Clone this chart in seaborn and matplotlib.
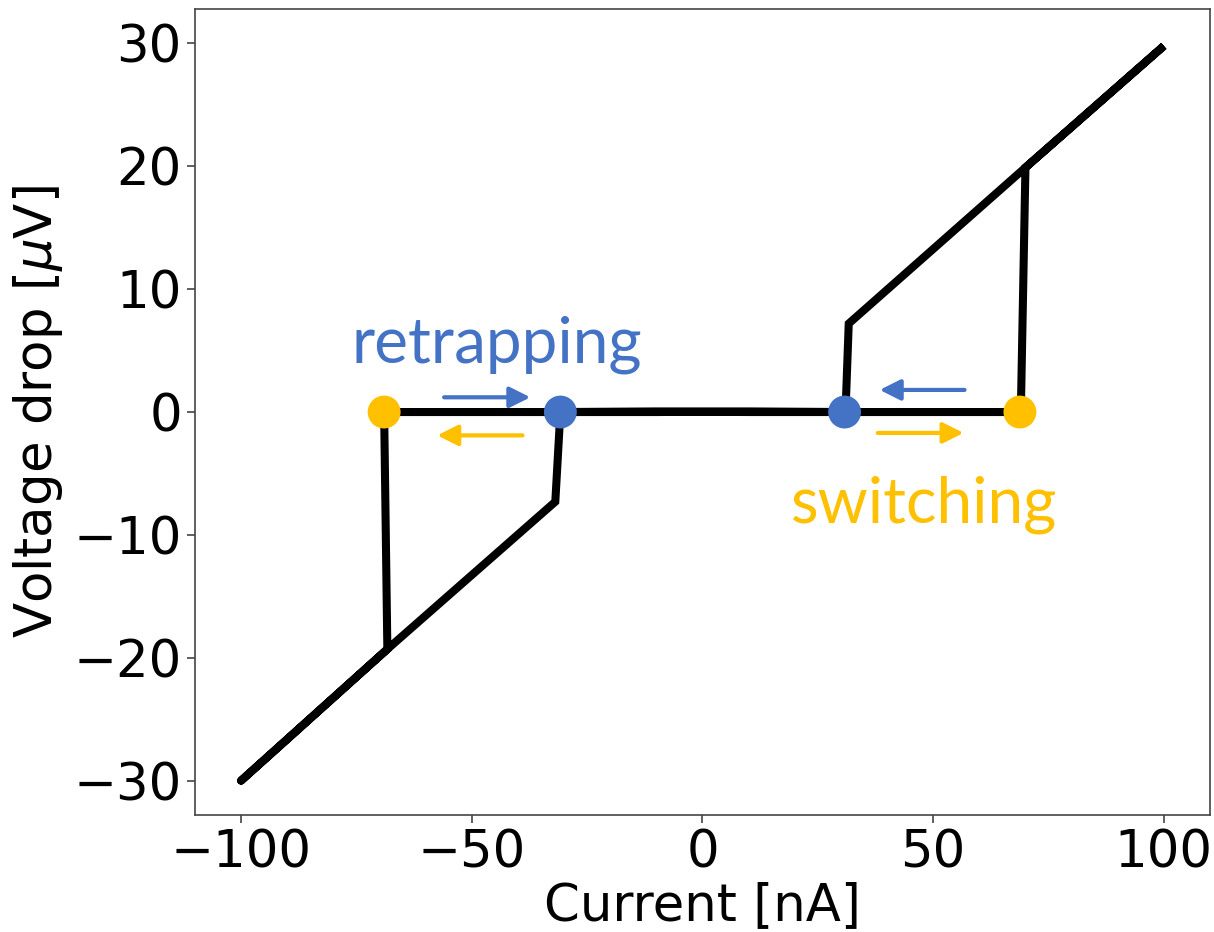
import matplotlib
matplotlib.use("Agg")
import matplotlib.pyplot as plt
import seaborn as sns
import pandas as pd

# I-V sweep path (forward then backward), nA and microvolts
current = [-100.0, -68.3, -31.9, -30.8, -10.0, 10.0, 69.0, 70.0, 100.0,
           70.0, 31.7, 31.0, 10.0, -10.0, -69.0, -68.3, -100.0]
voltage = [-30.0, -19.3, -7.3, 0.0, 0.05, 0.0, 0.0, 19.9, 29.8,
           19.9, 7.2, 0.0, 0.05, 0.0, 0.0, -19.3, -30.0]

# switching / retrapping currents
switch_current = [-69.0, 68.8]
retrap_current = [-30.8, 30.8]
marker_voltage = [0.0, 0.0]

# direction arrows (tail x, tip x, y)
blue_arrow_tail = [-56.0, 56.8]
blue_arrow_tip = [-37.3, 38.4]
blue_arrow_y = [1.2, 1.8]
yellow_arrow_tail = [-39.0, 38.0]
yellow_arrow_tip = [-57.5, 56.6]
yellow_arrow_y = [-1.9, -1.7]

label_retrap = ("retrapping", -44.5, 4.0)
label_switch = ("switching", 48.0, -9.0)

BLUE = "#4472C4"
YELLOW = "#FFC000"

sns.set_style("ticks")
plt.rcParams["font.family"] = ["DejaVu Sans"]
plt.rcParams["text.color"] = "black"
plt.rcParams["axes.labelcolor"] = "black"
plt.rcParams["xtick.color"] = "black"
plt.rcParams["ytick.color"] = "black"

fig = plt.figure(figsize=(12.14, 9.32), dpi=100)
ax = fig.add_axes([0.1606, 0.1255, 0.8361, 0.8648])

df = pd.DataFrame({"I": current, "V": voltage})
sns.lineplot(data=df, x="I", y="V", sort=False, estimator=None,
             color="black", lw=5.8, ax=ax, solid_joinstyle="miter")

sns.scatterplot(x=switch_current, y=marker_voltage, color=YELLOW, s=560,
                edgecolor="none", zorder=5, ax=ax)
sns.scatterplot(x=retrap_current, y=marker_voltage, color=BLUE, s=560,
                edgecolor="none", zorder=5, ax=ax)

style = "-|>,head_length=0.5,head_width=0.25"
for t, h, y in zip(blue_arrow_tail, blue_arrow_tip, blue_arrow_y):
    ax.annotate("", xy=(h, y), xytext=(t, y),
                arrowprops=dict(arrowstyle=style, color=BLUE, lw=3,
                                mutation_scale=25, shrinkA=0, shrinkB=0))
for t, h, y in zip(yellow_arrow_tail, yellow_arrow_tip, yellow_arrow_y):
    ax.annotate("", xy=(h, y), xytext=(t, y),
                arrowprops=dict(arrowstyle=style, color=YELLOW, lw=3,
                                mutation_scale=25, shrinkA=0, shrinkB=0))

ax.text(label_retrap[1], label_retrap[2], label_retrap[0], color=BLUE,
        fontsize=46, family="Lato", ha="center", va="baseline")
ax.text(label_switch[1], label_switch[2], label_switch[0], color=YELLOW,
        fontsize=46, family="Lato", ha="center", va="baseline")

ax.set_xlim(-110, 110)
ax.set_ylim(-32.8, 32.8)
ax.set_xticks([-100, -50, 0, 50, 100])
ax.set_yticks([-30, -20, -10, 0, 10, 20, 30])
ax.tick_params(labelsize=37, length=6, width=1.2, color="#444444",
               labelcolor="black")
for s in ax.spines.values():
    s.set_visible(True)
    s.set_color("#444444")
    s.set_linewidth(1.2)
ax.set_xlabel("Current [nA]", fontsize=37, labelpad=2, color="black")
ax.set_ylabel(r"Voltage drop [$\mu$V]", fontsize=37, labelpad=6, color="black")

fig.savefig("out.png", dpi=100)
